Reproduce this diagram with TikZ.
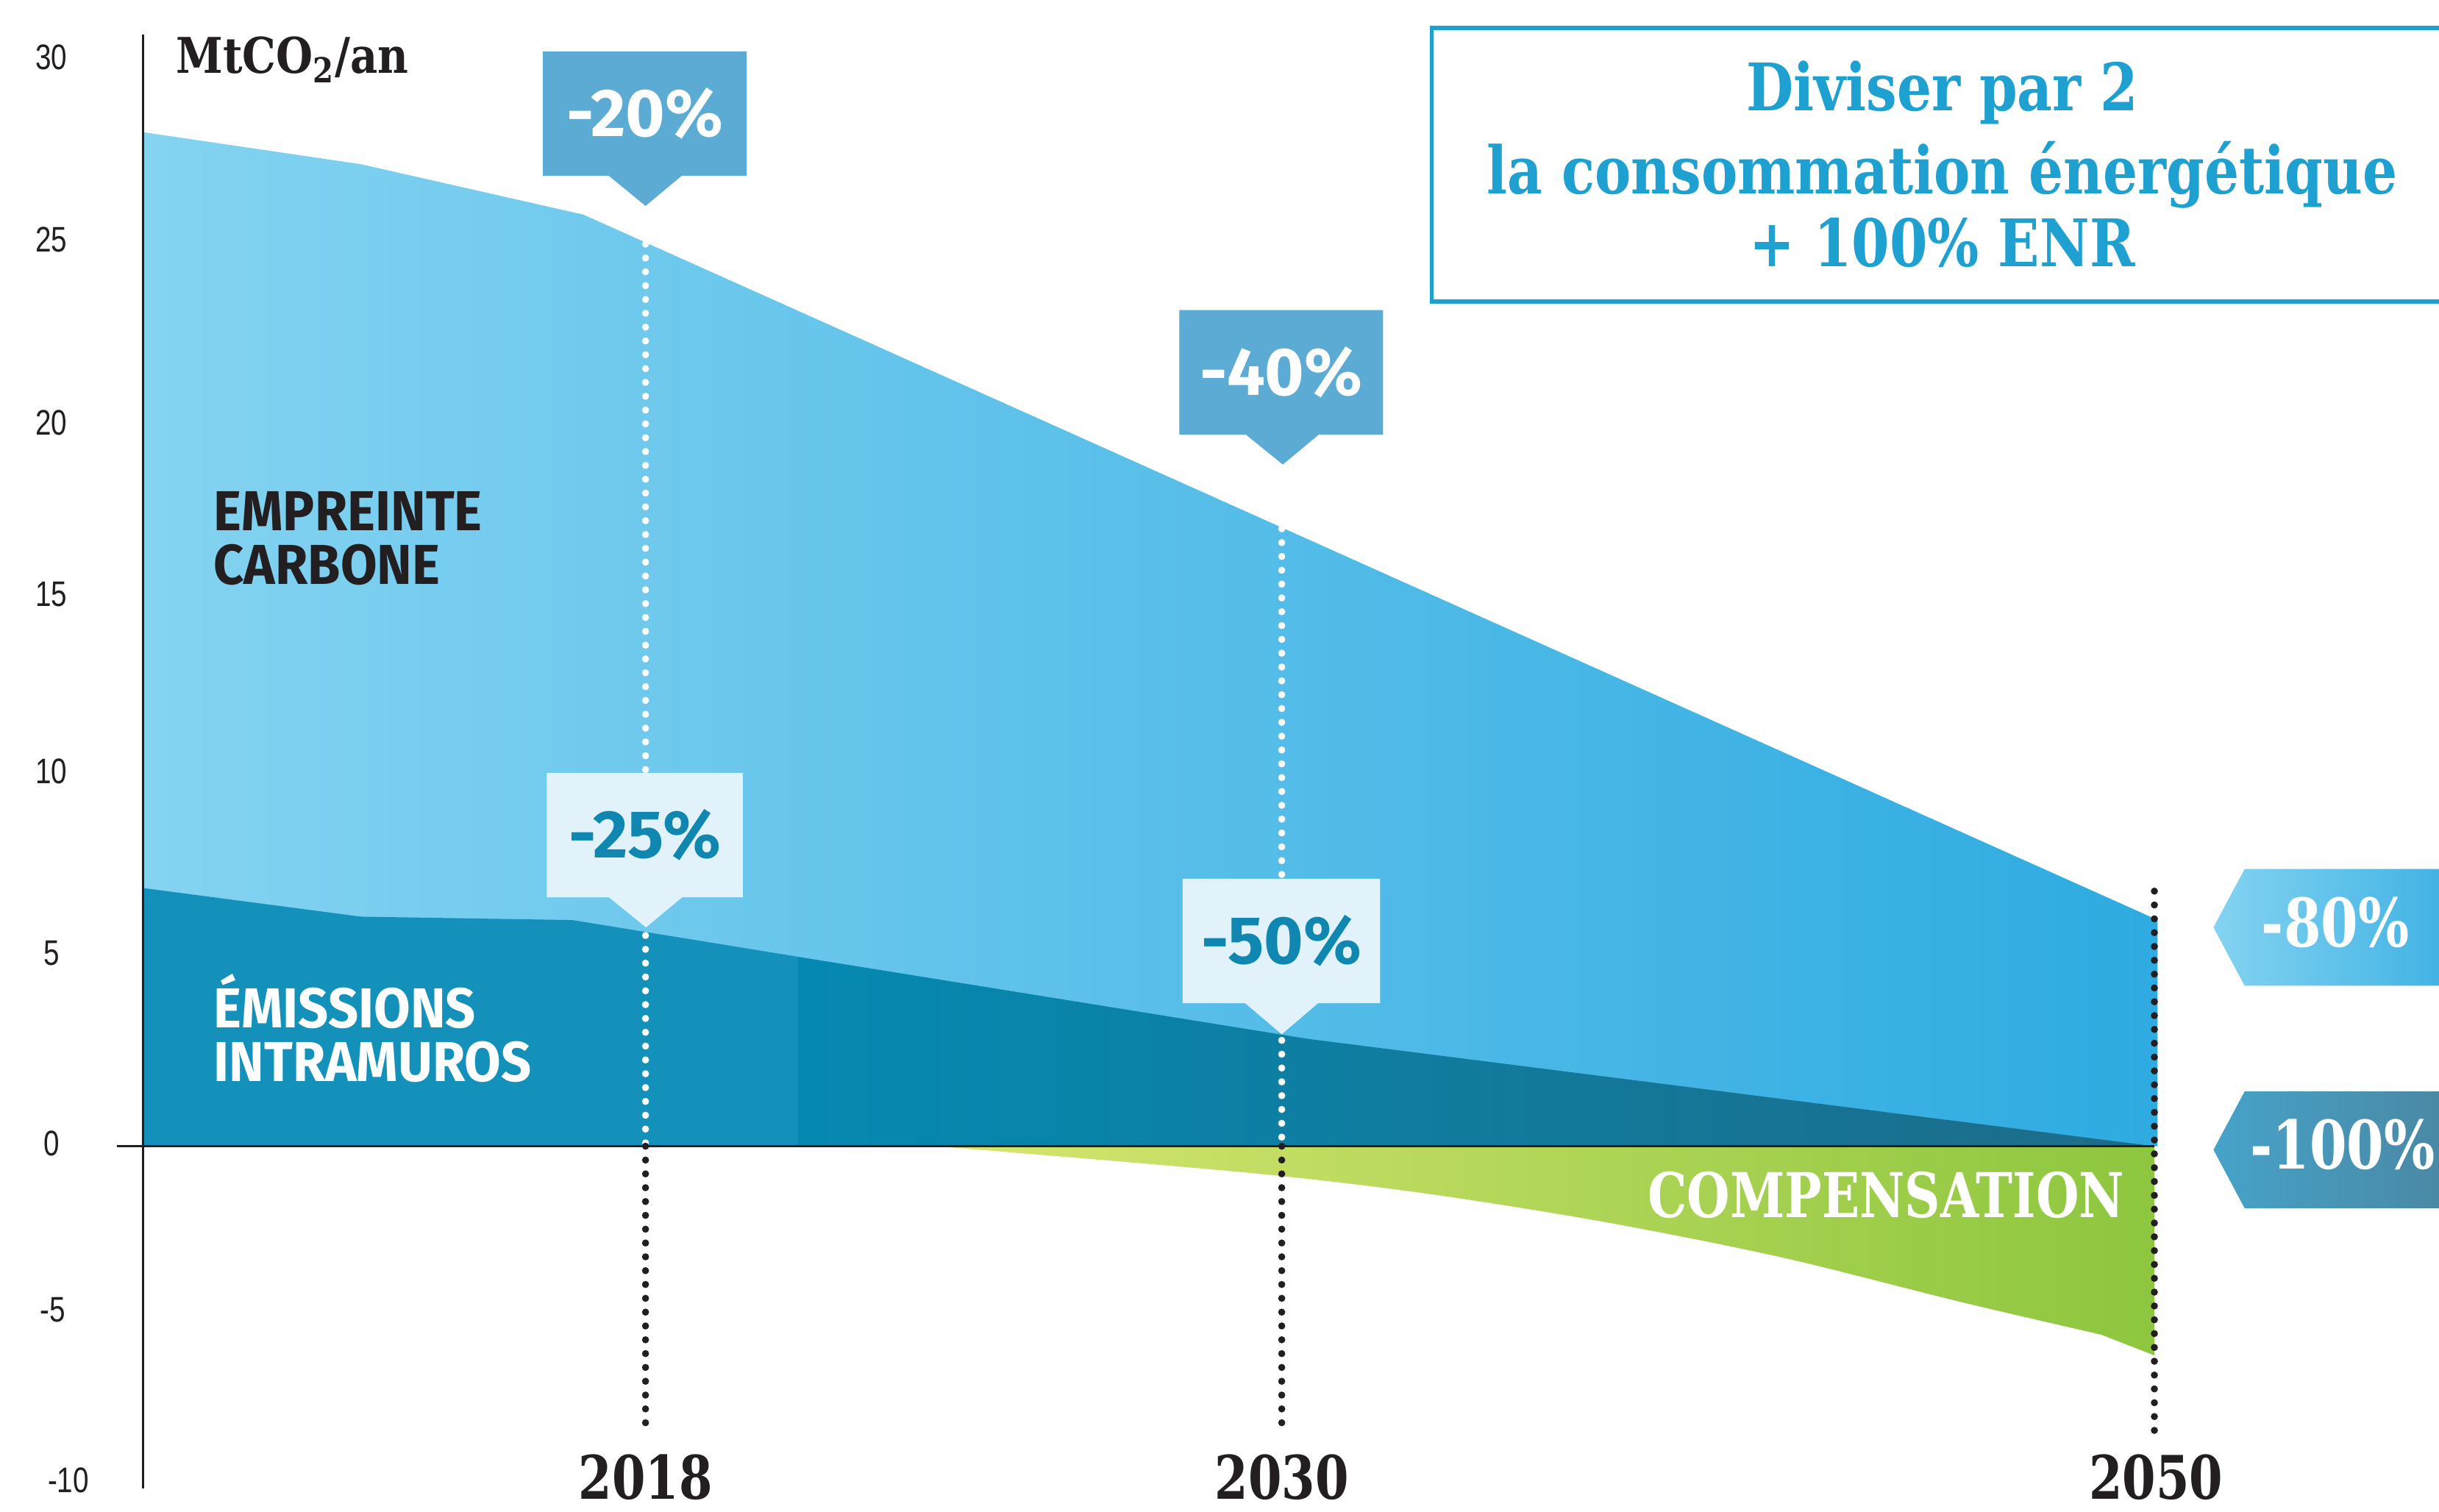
\documentclass[tikz,border=0pt]{standalone}
\usepackage{fontspec}
\usetikzlibrary{shapes.callouts}
\newfontfamily\slabfont[FakeStretch=0.8]{DejaVu Serif}
\newfontfamily\goalfont[FakeStretch=0.83]{DejaVu Serif}
\newfontfamily\unitfont[FakeStretch=0.86]{DejaVu Serif}
\newfontfamily\dinfont[FakeStretch=0.94]{Fira Sans}
\newfontfamily\roundfont{Fira Sans}
\newfontfamily\tickfont[FakeStretch=0.8]{Liberation Sans}
\definecolor{ink}{HTML}{231F20}
\definecolor{skyL}{HTML}{84D3F1}
\definecolor{skyR}{HTML}{2EABE1}
\definecolor{tealA}{HTML}{1391BA}
\definecolor{tealL}{HTML}{0589B1}
\definecolor{tealR}{HTML}{1D6C89}
\definecolor{greenL}{HTML}{D6E670}
\definecolor{greenR}{HTML}{8DC63F}
\definecolor{tagblue}{HTML}{5BABD4}
\definecolor{tagpale}{HTML}{E1F2FA}
\definecolor{tagtext}{HTML}{0F87B0}
\definecolor{boxblue}{HTML}{1EA0D0}
\definecolor{flagL}{HTML}{84D3F1}
\definecolor{flagR}{HTML}{3AAFE2}
\definecolor{deepL}{HTML}{46A3CA}
\definecolor{deepR}{HTML}{4A85A0}
\begin{document}
\begin{tikzpicture}[x=0.02cm, y=-0.02cm,
  tick/.style={font=\tickfont\fontsize{13}{13}\selectfont, text=ink, inner sep=0pt},
  zone/.style={font=\dinfont\bfseries\fontsize{20.6}{20}\selectfont, anchor=base west, inner sep=0pt},
  year/.style={font=\slabfont\bfseries\fontsize{22}{24}\selectfont, text=ink, anchor=base, inner sep=0pt},
  tag/.style={rectangle callout, minimum width=2.6cm, minimum height=1.6cm, inner sep=0pt,
    callout pointer width=0.94cm, font=\roundfont\bfseries\fontsize{24.7}{26}\selectfont},
  goal/.style={font=\goalfont\bfseries\fontsize{24}{26}\selectfont, text=boxblue, anchor=base, inner sep=0pt},
  pct/.style={font=\slabfont\bfseries\fontsize{24.5}{26}\selectfont, text=white, inner sep=0pt},
  dotline/.style={line width=2.6pt, line cap=round, dash pattern=on 0pt off 5.06pt}]
\def\flagpath#1{(1423,#1) -- ++(20,-37.5) -- ++(145,0) -- ++(0,75) -- ++(-145,0) -- cycle}
\useasboundingbox (0,0) rectangle (1568,972);
\clip (0,0) rectangle (1568,972);

% areas
\shade[left color=skyL, right color=skyR] (92,737) -- (92,85) -- (232,105.6) -- (375,138)
  -- (1387,591.5) -- (1387,737) -- cycle;
\fill[tealA] (92,737) -- (92,571) -- (232,589.4) -- (368,591.6) -- (513,615.2) -- (513,737) -- cycle;
\shade[left color=tealL, right color=tealR] (513,737) -- (513,615.2) -- (841,668) -- (1385,737) -- cycle;
\shade[left color=greenL, right color=greenR] (1385,737)
  -- plot[smooth] coordinates {(602,737) (804,754.2) (918,767.6) (1032,785.8) (1146,808.6) (1260,837) (1351,858.2)}
  -- (1385,871.5) -- cycle;

% axes
\draw[ink, line width=0.9pt] (92,22) -- (92,957);
\draw[ink, line width=0.8pt] (75,737) -- (1385,737);
\foreach \v/\x/\y in {30/33/37, 25/33/154, 20/33/272, 15/33/382, 10/33/496,
                      5/33/613, 0/33/735, -5/34/842, -10/44/952}
  \node[tick] (tick\y) at (\x,\y) {\v};
\node[anchor=base west, inner sep=0pt, text=ink,
  font=\unitfont\bfseries\fontsize{18}{20}\selectfont] (unit) at (113,47) {MtCO\textsubscript{2}/an};

% year lines
\coordinate (top18) at (415,157);  \coordinate (zero18) at (415,737);  \coordinate (end18) at (415,920);
\coordinate (top30) at (824,340);  \coordinate (zero30) at (824,737);  \coordinate (end30) at (824,920);
\coordinate (top50) at (1385,573); \coordinate (end50) at (1385,921);
\draw[dotline, white] (top18) -- (zero18);
\draw[dotline, ink] (zero18) -- (end18);
\draw[dotline, white] (top30) -- (zero30);
\draw[dotline, ink] (zero30) -- (end30);
\draw[dotline, ink] (top50) -- (end50);
\node[year] (y18) at (415,964) {2018};
\node[year] (y30) at (824,964) {2030};
\node[year] (y50) at (1386,964) {2050};

% zone labels
\node[zone, text=ink] (emp1) at (137,341.2) {EMPREINTE};
\node[zone, text=ink] (emp2) at (137,375.8) {CARBONE};
\node[zone, text=white] (ems1) at (137,660.7) {ÉMISSIONS};
\node[zone, text=white] (ems2) at (137,695.5) {INTRAMUROS};
\node[anchor=base east, inner sep=0pt, text=white,
  font=\slabfont\bfseries\fontsize{22.6}{24}\selectfont] (comp) at (1366,783) {COMPENSATION};

% callouts
\coordinate (tip20) at (415,132.4);
\coordinate (tip40) at (824.7,298.7);
\coordinate (tip25) at (415.3,596.3);
\coordinate (tip50) at (824,665);
\node[tag, fill=tagblue, text=white, minimum width=2.62cm, callout absolute pointer={(tip20)}] (c20) at (414.5,73) {-20\%};
\node[tag, fill=tagblue, text=white, minimum width=2.62cm, callout absolute pointer={(tip40)}] (c40) at (823.7,239.4) {-40\%};
\node[tag, fill=tagpale, text=tagtext, minimum width=2.52cm, callout absolute pointer={(tip25)}] (c25) at (414.5,537) {-25\%};
\node[tag, fill=tagpale, text=tagtext, minimum width=2.54cm, callout absolute pointer={(tip50)}] (c50) at (823.8,605) {-50\%};

% right flags
\shade[left color=flagL, right color=flagR] \flagpath{596.3};
\node[pct] (m80) at (1501.4,593) {-80\%};
\shade[left color=deepL, right color=deepR] \flagpath{739.3};
\node[pct] (m100) at (1506,736) {-100\%};

% goal box
\draw[boxblue, line width=1.5pt] (920.5,18.1) rectangle (1600,193.9);
\node[goal] (goal1) at (1248.6,71.3) {Diviser par 2};
\node[goal] (goal2) at (1248.5,124.5) {la consommation énergétique};
\node[goal] (goal3) at (1248.6,171.5) {+ 100\% ENR};
\end{tikzpicture}
\end{document}
